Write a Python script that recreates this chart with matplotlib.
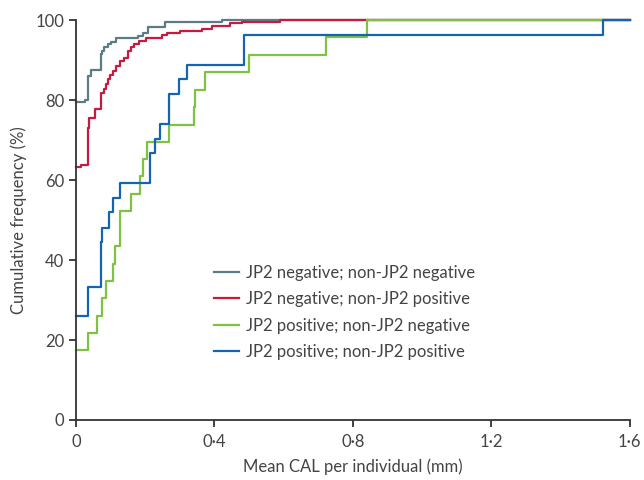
import matplotlib
matplotlib.use("Agg")
import matplotlib.pyplot as plt

# Cumulative frequency (%); each value holds from its x to the next x
neg_neg_x = [0, 0.025, 0.036, 0.042, 0.071, 0.075, 0.082, 0.092, 0.102, 0.116, 0.178, 0.195, 0.209, 0.258, 0.422, 1.6]
neg_neg_y = [79.6, 80.0, 86.0, 87.5, 91.5, 92.3, 93.2, 94.0, 94.6, 95.5, 96.1, 96.9, 98.3, 99.6, 100, 100]

neg_pos_x = [0, 0.015, 0.034, 0.039, 0.055, 0.071, 0.080, 0.087, 0.092, 0.098, 0.106, 0.116, 0.128,
             0.138, 0.149, 0.159, 0.169, 0.183, 0.202, 0.248, 0.263, 0.301, 0.364, 0.393, 0.446, 0.48, 0.59, 1.6]
neg_pos_y = [63.3, 63.7, 73.1, 75.6, 77.7, 81.9, 82.9, 84.0, 85.2, 86.2, 87.4, 88.5, 89.8,
             90.6, 92.3, 93.2, 94.0, 94.8, 95.5, 96.2, 96.8, 97.3, 97.9, 98.5, 99.2, 99.6, 100, 100]

pos_neg_x = [0, 0.034, 0.061, 0.074, 0.087, 0.107, 0.112, 0.126, 0.160, 0.186, 0.194, 0.205, 0.268,
             0.340, 0.345, 0.374, 0.499, 0.722, 0.842, 1.6]
pos_neg_y = [17.4, 21.7, 26.1, 30.4, 34.8, 39.1, 43.5, 52.2, 56.5, 60.9, 65.2, 69.6, 73.9,
             78.3, 82.6, 87.0, 91.3, 95.7, 100, 100]

pos_pos_x = [0, 0.034, 0.071, 0.074, 0.095, 0.107, 0.126, 0.215, 0.229, 0.242, 0.268, 0.297, 0.321,
             0.484, 1.522, 1.6]
pos_pos_y = [25.9, 33.3, 44.4, 48.1, 51.9, 55.6, 59.3, 66.7, 70.4, 74.1, 81.5, 85.2, 88.9,
             96.3, 100, 100]

labels = ["JP2 negative; non-JP2 negative",
          "JP2 negative; non-JP2 positive",
          "JP2 positive; non-JP2 negative",
          "JP2 positive; non-JP2 positive"]
colors = ["#5b7b85", "#c8193f", "#7dc242", "#1464b4"]

xticks = [0, 0.4, 0.8, 1.2, 1.6]
xtick_labels = ["0", "0\u00b74", "0\u00b78", "1\u00b72", "1\u00b76"]
yticks = [0, 20, 40, 60, 80, 100]

plt.rcParams['font.family'] = ['Lato', 'DejaVu Sans']
text_color = "#444444"

fig = plt.figure(figsize=(6.44, 4.8), dpi=100)
ax = fig.add_axes([0.118, 0.125, 0.860, 0.833])

series = [(neg_neg_x, neg_neg_y), (neg_pos_x, neg_pos_y),
          (pos_neg_x, pos_neg_y), (pos_pos_x, pos_pos_y)]
for (x, y), lab, c in zip(series, labels, colors):
    ax.plot(x, y, drawstyle="steps-post", color=c, lw=1.6, label=lab, clip_on=False)

ax.set_xlim(0, 1.6)
ax.set_ylim(0, 100)
ax.set_xticks(xticks)
ax.set_xticklabels(xtick_labels)
ax.set_yticks(yticks)

for side in ["top", "right"]:
    ax.spines[side].set_visible(False)
for side in ["left", "bottom"]:
    ax.spines[side].set_color("#333333")
    ax.spines[side].set_linewidth(1.3)

ax.tick_params(axis="both", direction="out", length=5, width=1.3, color="#333333",
               labelsize=12, labelcolor=text_color)
ax.tick_params(axis="x", pad=5)

ax.set_xlabel("Mean CAL per individual (mm)", fontsize=12, color=text_color, labelpad=6)
ax.set_ylabel("Cumulative frequency (%)", fontsize=12, color=text_color, labelpad=6)

leg = ax.legend(loc="upper left", bbox_to_anchor=(0.249, 0.388), frameon=False,
                fontsize=12, handlelength=1.5, handletextpad=0.42, labelspacing=0.62,
                borderaxespad=0, borderpad=0)
for t in leg.get_texts():
    t.set_color(text_color)

fig.savefig("out.png", dpi=100)
